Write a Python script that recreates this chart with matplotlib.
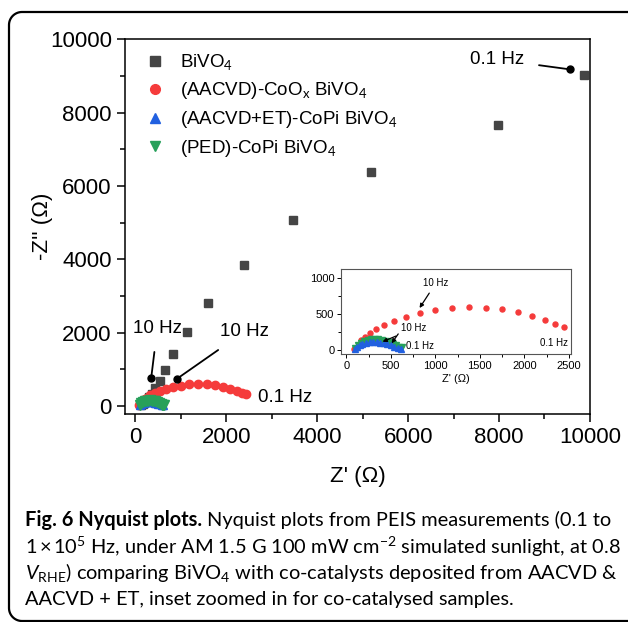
import numpy as np
import matplotlib
matplotlib.use("Agg")
import matplotlib.pyplot as plt
from matplotlib.lines import Line2D

plt.rcParams['font.family'] = ['Liberation Sans', 'DejaVu Sans']
plt.rcParams['mathtext.fontset'] = 'custom'
plt.rcParams['mathtext.rm'] = 'Lato'
plt.rcParams['mathtext.it'] = 'Lato:italic'
plt.rcParams['mathtext.bf'] = 'Lato:bold'

# Nyquist data (Z' , -Z'') in ohm
bivo4_re = [9870, 7970, 5180, 3460, 2380, 1600, 1125, 820, 645, 535, 440, 360, 300, 250, 205, 165, 130]
bivo4_im = [9030, 7670, 6390, 5080, 3850, 2815, 2010, 1405, 980, 680, 480, 340, 240, 165, 105, 60, 25]

coox_re = [80, 159, 204, 260, 328, 421, 534, 672, 822, 998, 1185, 1376, 1571, 1751, 1931, 2088, 2227, 2343, 2440]
coox_im = [14, 139, 185, 231, 292, 347, 407, 463, 519, 556, 588, 597, 588, 565, 523, 472, 421, 366, 315]

et_re = [95, 120, 150, 180, 220, 260, 300, 340, 380, 420, 460, 500, 540, 580, 610]
et_im = [15, 45, 70, 88, 102, 110, 112, 110, 104, 94, 80, 63, 45, 28, 20]

ped_re = [100, 130, 160, 200, 240, 280, 320, 360, 400, 440, 480, 520, 560, 590, 610, 630]
ped_im = [30, 70, 100, 125, 140, 150, 152, 150, 143, 130, 112, 90, 65, 40, 25, 35]

labels = ['BiVO$_4$', '(AACVD)-CoO$_\\mathrm{x}$ BiVO$_4$',
          '(AACVD+ET)-CoPi BiVO$_4$', '(PED)-CoPi BiVO$_4$']
colors = ['#454545', '#f53b3b', '#2160e0', '#27a05a']
markers = ['s', 'o', '^', 'v']

main_xticks = [0, 2000, 4000, 6000, 8000, 10000]
main_yticks = [0, 2000, 4000, 6000, 8000, 10000]
inset_xticks = [0, 500, 1000, 1500, 2000, 2500]
inset_yticks = [0, 500, 1000]

fig = plt.figure(figsize=(6.3, 6.22), dpi=100)

# outer frame: top edge and left edge with rounded corners (figure fraction coords)
r = 0.13
tt = np.linspace(0, np.pi / 2, 20)
left_x, top_y, bot_y, right_x = 0.09, 6.10, 0.01, 6.28
fx = [right_x, left_x + r] + list(left_x + r - r * np.sin(tt)) + \
     [left_x, left_x] + list(left_x + r - r * np.cos(tt)) + [left_x + r, right_x]
fy = [top_y, top_y] + list(top_y - r + r * np.cos(tt)) + \
     [top_y - r, bot_y + r] + list(bot_y + r - r * np.sin(tt)) + [bot_y, bot_y]
fx = np.array(fx) / 6.3
fy = np.array(fy) / 6.22
fig.add_artist(Line2D(fx, fy, transform=fig.transFigure, color='black', lw=1.6,
                      solid_capstyle='butt'))

ax = fig.add_axes([0.1984, 0.3344, 0.738, 0.6024])
ax.plot(bivo4_re, bivo4_im, ls='none', marker='s', ms=5.2, color=colors[0], mec=colors[0])
ax.plot(coox_re, coox_im, ls='none', marker='o', ms=6, color=colors[1], mec=colors[1])
ax.plot(et_re, et_im, ls='none', marker='^', ms=6, color=colors[2], mec=colors[2])
ax.plot(ped_re, ped_im, ls='none', marker='v', ms=6.5, color=colors[3], mec=colors[3])

ax.set_xlim(-231, 10000)
ax.set_ylim(-218, 10000)
ax.set_xticks(main_xticks)
ax.set_yticks(main_yticks)
ax.set_xticks(np.arange(1000, 10000, 2000), minor=True)
ax.set_yticks(np.arange(1000, 10000, 2000), minor=True)
ax.tick_params(which='both', direction='out', width=1.1, labelsize=16)
ax.tick_params(which='major', length=6)
ax.tick_params(which='minor', length=3.5)
for s in ax.spines.values():
    s.set_linewidth(1.1)
ax.set_xlabel("Z' (\u03a9)", fontsize=16, labelpad=13)
ax.set_ylabel("-Z'' (\u03a9)", fontsize=16, labelpad=-2)

handles = [Line2D([], [], ls='none', marker=m, ms=7, color=c) for m, c in zip(markers, colors)]
ax.legend(handles, labels, loc='upper left', bbox_to_anchor=(0.0, 0.995), frameon=False,
          fontsize=13.5, handletextpad=0.35, labelspacing=0.42, borderaxespad=0.2)

# main annotations: (text, text xy, dot xy)
main_notes = [('0.1 Hz', (7950, 9450), (9560, 9180)),
              ('10 Hz', (480, 2120), (345, 760)),
              ('10 Hz', (2400, 2030), (910, 740))]
for txt, xyt, xyd in main_notes:
    ax.annotate(txt, xy=xyd, xytext=xyt, fontsize=13.5, ha='center', va='center',
                arrowprops=dict(arrowstyle='-', color='black', lw=1.3, shrinkA=9, shrinkB=0))
    ax.plot([xyd[0]], [xyd[1]], marker='o', ms=5, color='black', zorder=5)
ax.text(2700, 230, '0.1 Hz', fontsize=13.5, ha='left', va='center')

# inset
ins = fig.add_axes([0.5417, 0.4309, 0.3641, 0.1367])
ins.plot(coox_re, coox_im, ls='none', marker='o', ms=3.6, color=colors[1], mec=colors[1])
ins.plot(ped_re, ped_im, ls='none', marker='v', ms=4, color=colors[3], mec=colors[3])
ins.plot(et_re, et_im, ls='none', marker='^', ms=4, color=colors[2], mec=colors[2])
ins.set_xlim(-58, 2520)
ins.set_ylim(-55, 1125)
ins.set_xticks(inset_xticks)
ins.set_yticks(inset_yticks)
ins.set_xticks(np.arange(250, 2500, 500), minor=True)
ins.set_yticks([250, 750], minor=True)
ins.tick_params(which='both', direction='out', width=0.7, labelsize=8, pad=2)
ins.tick_params(which='major', length=3)
ins.tick_params(which='minor', length=2)
for s in ins.spines.values():
    s.set_linewidth(0.8)
    s.set_color('#555555')
ins.set_xlabel("Z' (\u03a9)", fontsize=8, labelpad=2)

arr = dict(arrowstyle='-|>', color='black', lw=0.9, mutation_scale=6, shrinkA=2, shrinkB=0)
ins.annotate('10 Hz', xy=(822, 583), xytext=(1005, 930), fontsize=7, ha='center', va='center', arrowprops=arr)
ins.annotate('10 Hz', xy=(406, 115), xytext=(760, 300), fontsize=7, ha='center', va='center', arrowprops=arr)
ins.annotate('', xy=(508, 93), xytext=(600, 255), arrowprops=arr)
ins.text(670, 60, '0.1 Hz', fontsize=7, ha='left', va='center')
ins.text(2330, 167, '0.1 Hz', fontsize=7, ha='center', va='top')

# caption
cap_size = 14.4
cap_x = 25 / 630
ys = [1 - 520 / 622, 1 - 546.5 / 622, 1 - 573 / 622, 1 - 599 / 622]
bold = fig.text(cap_x, ys[0], 'Fig. 6 Nyquist plots.', fontsize=cap_size, family='Lato',
                weight='bold', va='center')
fig.canvas.draw()
bb = bold.get_window_extent()
space = 5
fig.text((bb.x1 + space) / 630, ys[0], 'Nyquist plots from PEIS measurements (0.1 to',
         fontsize=cap_size, family='Lato', va='center')
fig.text(cap_x, ys[1], '1\u2009\u00d7\u200910$^5$ Hz, under AM 1.5 G 100 mW cm$^{\u22122}$ simulated sunlight, at 0.8',
         fontsize=cap_size, family='Lato', va='center')
fig.text(cap_x, ys[2], '$\\mathit{V}_{\\mathrm{RHE}}$) comparing BiVO$_4$ with co-catalysts deposited from AACVD &',
         fontsize=cap_size, family='Lato', va='center')
fig.text(cap_x, ys[3], 'AACVD + ET, inset zoomed in for co-catalysed samples.',
         fontsize=cap_size, family='Lato', va='center')

fig.savefig('out.png', dpi=100)
